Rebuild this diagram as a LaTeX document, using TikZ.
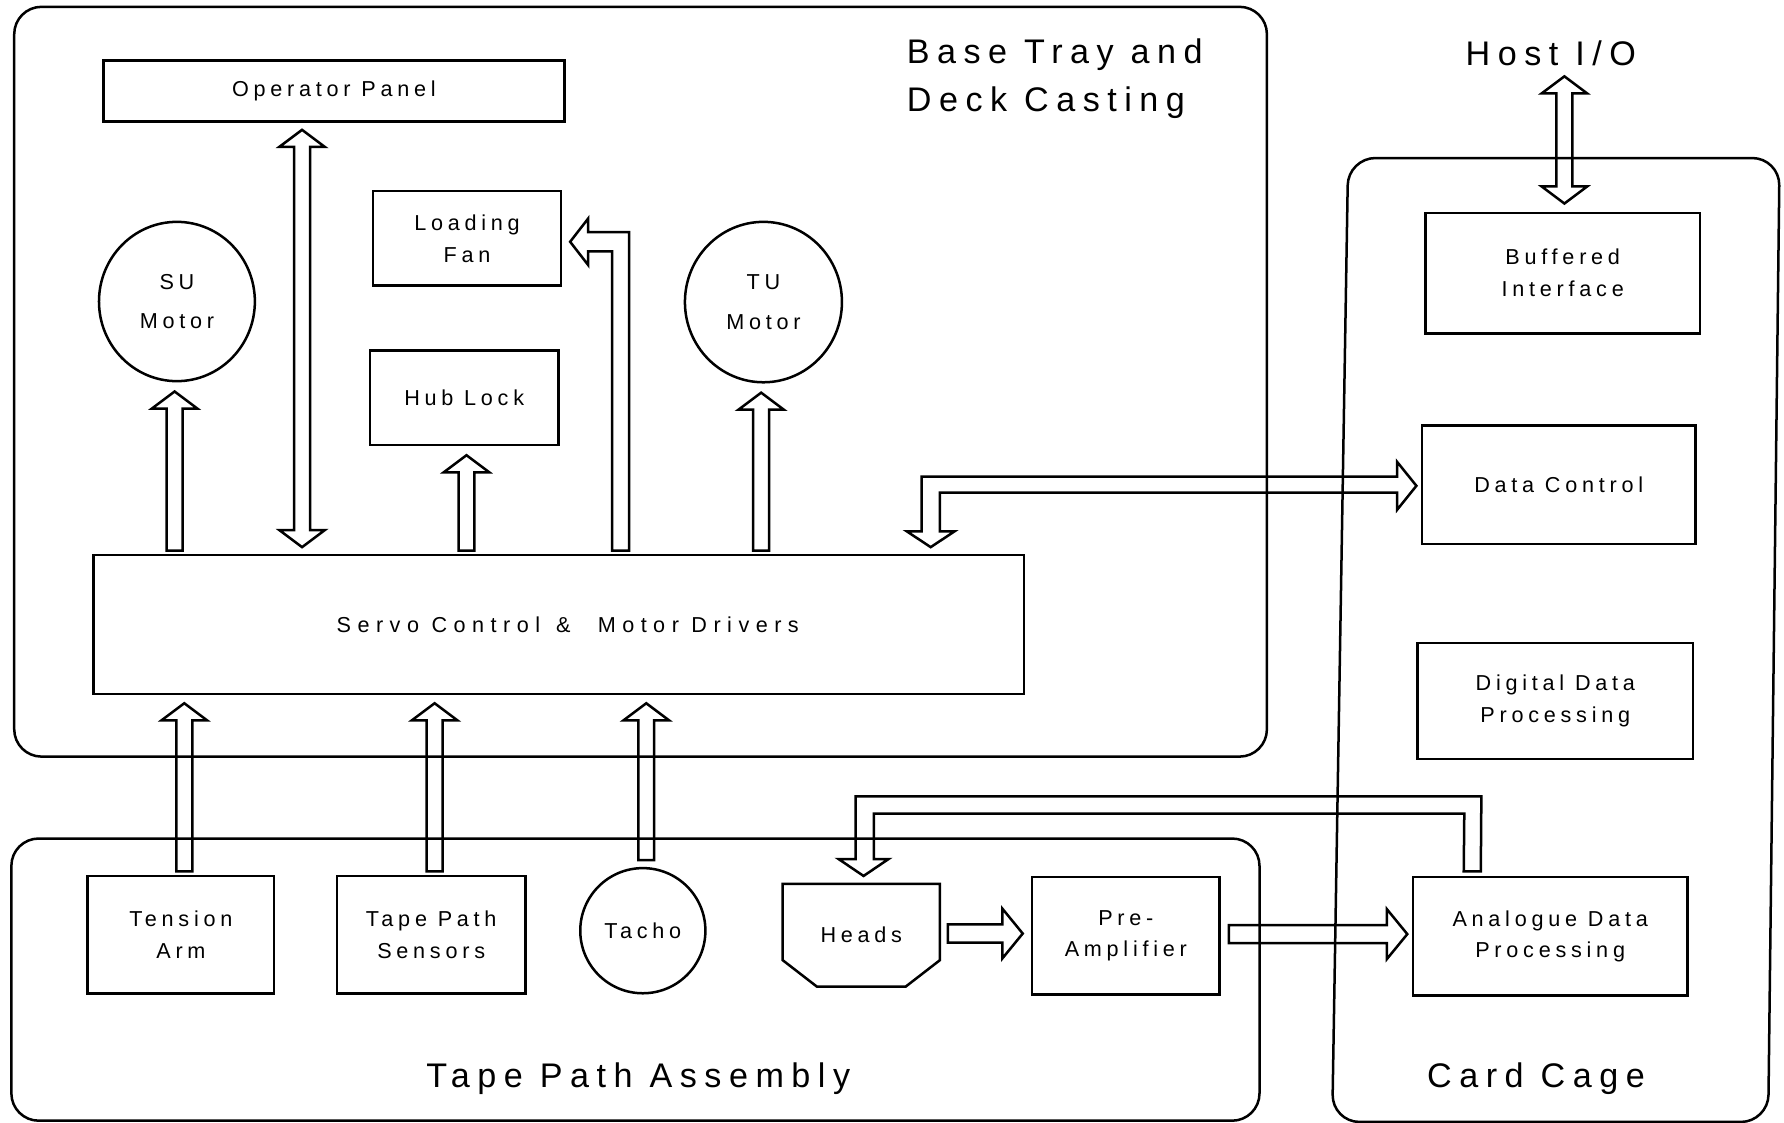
\documentclass[tikz,border=0pt]{standalone}
\usepackage{fontspec}
\setmainfont{Liberation Sans}[LetterSpace=22]
\usetikzlibrary{calc,shapes.geometric}
\newcommand\blkup[2]{\draw[blk] let \p1=#1, \p2=#2 in (\x2-7pt,\y1) -- (\x2-7pt,\y2-15pt) -- (\x2-20pt,\y2-15pt) -- (\x2,\y2) -- (\x2+20pt,\y2-15pt) -- (\x2+7pt,\y2-15pt) -- (\x2+7pt,\y1) -- cycle;}
\newcommand\blkright[2]{\draw[blk] let \p1=#1, \p2=#2 in (\x1,\y2+8pt) -- (\x2-18pt,\y2+8pt) -- (\x2-18pt,\y2+22pt) -- (\x2,\y2) -- (\x2-18pt,\y2-22pt) -- (\x2-18pt,\y2-8pt) -- (\x1,\y2-8pt) -- cycle;}
\newcommand\blkboth[2]{\draw[blk] let \p1=#1, \p2=#2 in (\x1,\y1) -- (\x1+20pt,\y1-15pt) -- (\x1+7pt,\y1-15pt) -- (\x1+7pt,\y2+15pt) -- (\x1+20pt,\y2+15pt) -- (\x1,\y2) -- (\x1-20pt,\y2+15pt) -- (\x1-7pt,\y2+15pt) -- (\x1-7pt,\y1-15pt) -- (\x1-20pt,\y1-15pt) -- cycle;}
\begin{document}
\begin{tikzpicture}[x=1pt,y=-1pt,line width=2.2pt,
  blk/.style={draw,line width=2.2pt,line join=miter},
  box/.style={draw,rectangle,inner sep=0pt,align=center,font=\fontsize{19}{28}\selectfont},
  motor/.style={draw,ellipse,inner sep=0pt,align=center,font=\fontsize{19}{35}\selectfont},
  area/.style={draw,rectangle,rounded corners=24pt,inner sep=0pt},
  title/.style={font=\fontsize{30}{42}\selectfont,align=left,inner sep=0pt}]
\useasboundingbox (0,0) rectangle (1568,987);
% containers
\node[area,minimum width=1101,minimum height=659] (base) at (563,335.5) {};
\node[area,minimum width=1097,minimum height=248] (tape) at (558.5,861) {};
\node[inner sep=0pt,minimum width=385,minimum height=845] (cage) at (1370.5,562.5) {};
\draw[rounded corners=24pt] ($(cage.north west)+(8,0)$) -- (cage.north east) -- ($(cage.south east)+(-10,0)$) -- ($(cage.south west)+(-6,0)$) -- cycle;
\node[title,anchor=west] (baselbl) at (796,69) {Base Tray and\\Deck Casting};
\node[title] (tapelbl) at (561,948) {Tape Path Assembly};
\node[title] (cagelbl) at (1350,948) {Card Cage};
\node[title] (host) at (1363,47) {Host I/O};
% base tray blocks
\node[box,minimum width=405,minimum height=54] (op) at (293.5,80) {Operator Panel};
\node[box,minimum width=165,minimum height=83] (fan) at (410.5,209.5) {Loading\\Fan};
\node[box,minimum width=166,minimum height=83] (hub) at (408,349.5) {Hub Lock};
\node[motor,minimum width=137,minimum height=140] (su) at (155.5,265) {SU\\Motor};
\node[motor,minimum width=138,minimum height=141] (tu) at (671,265.5) {TU\\Motor};
\node[box,minimum width=818,minimum height=122] (servo) at (491,549) {};
\node[font=\fontsize{19}{28}\selectfont\addfontfeatures{LetterSpace=30},inner sep=0pt] (servolbl) at (499,549) {Servo Control\hspace{14pt}\&\hspace{24pt}Motor Drivers};
% tape path blocks
\node[box,minimum width=164,minimum height=103] (tension) at (159,821.5) {Tension\\Arm};
\node[box,minimum width=166,minimum height=103] (sensors) at (379,821.5) {Tape Path\\Sensors};
\node[motor,minimum width=110,minimum height=110] (tacho) at (565,818) {Tacho};
\node[inner sep=0pt,minimum width=136,minimum height=88,font=\fontsize{19}{28}\selectfont] (heads) at (757,822) {Heads};
\draw (heads.north west) -- (heads.north east) -- ($(heads.north east)+(0,67)$) -- ($(heads.south east)+(-30,0)$) -- ($(heads.south west)+(30,0)$) -- ($(heads.north west)+(0,67)$) -- cycle;
\node[box,minimum width=165,minimum height=103] (pre) at (989.5,822.5) {Pre-\\Amplifier};
% card cage blocks
\node[box,minimum width=241,minimum height=106] (buf) at (1373.5,240) {Buffered\\Interface};
\node[box,minimum width=240,minimum height=104] (dc) at (1370,426) {Data Control};
\node[box,minimum width=242,minimum height=102] (ddp) at (1367,616) {Digital Data\\Processing};
\node[box,minimum width=241,minimum height=104] (adp) at (1362.5,823) {Analogue Data\\Processing};
% arrows
\blkboth{($(op.south)+(-28,6)$)}{($(op.south |- servo.north)+(-28,-6)$)}
\blkup{($(servo.north -| su.south)+(-2,-3)$)}{($(su.south)+(-2,8)$)}
\blkup{($(servo.north -| hub.south)+(2,-3)$)}{($(hub.south)+(2,8)$)}
\blkup{($(servo.north -| tu.south)+(-2,-3)$)}{($(tu.south)+(-2,8)$)}
\blkup{($(tension.north)+(3,-3)$)}{($(servo.south -| tension.north)+(3,7)$)}
\blkup{($(sensors.north)+(3,-3)$)}{($(servo.south -| sensors.north)+(3,7)$)}
\blkup{($(tacho.north)+(3,-6)$)}{($(servo.south -| tacho.north)+(3,7)$)}
\blkboth{($(host.south)+(12,8)$)}{($(buf.north -| host.south)+(12,-7)$)}
\blkright{($(heads.east)+(7,-2)$)}{($(pre.west)+(-7,-2)$)}
\blkright{($(pre.east)+(7,-2)$)}{($(adp.west)+(-4,-2)$)}
% servo -> loading fan
\draw[blk] ($(servo.north)+(47,-3)$) -- (538,221) -- (517,221) -- (517,233) -- ($(fan.east)+(7,3)$) -- (517,192) -- (517,204) -- (553,204) -- ($(servo.north)+(62,-3)$) -- cycle;
% servo <-> data control
\draw[blk] ($(servo.north)+(327,-6)$) -- (839,467) -- (826,467) -- (826,433) -- (1228,433) -- (1228,448) -- ($(dc.west)+(-4,1)$) -- (1228,406) -- (1228,419) -- (810,419) -- (810,467) -- (797,467) -- cycle;
% analogue -> heads
\draw[blk] ($(adp.north)+(-76,-4)$) -- (1287,715) -- (768,715) -- (768,755) -- (781,755) -- ($(heads.north)+(2,-7)$) -- (737,755) -- (752,755) -- (752,700) -- (1302,700) -- ($(adp.north)+(-61,-4)$) -- cycle;
\end{tikzpicture}
\end{document}
